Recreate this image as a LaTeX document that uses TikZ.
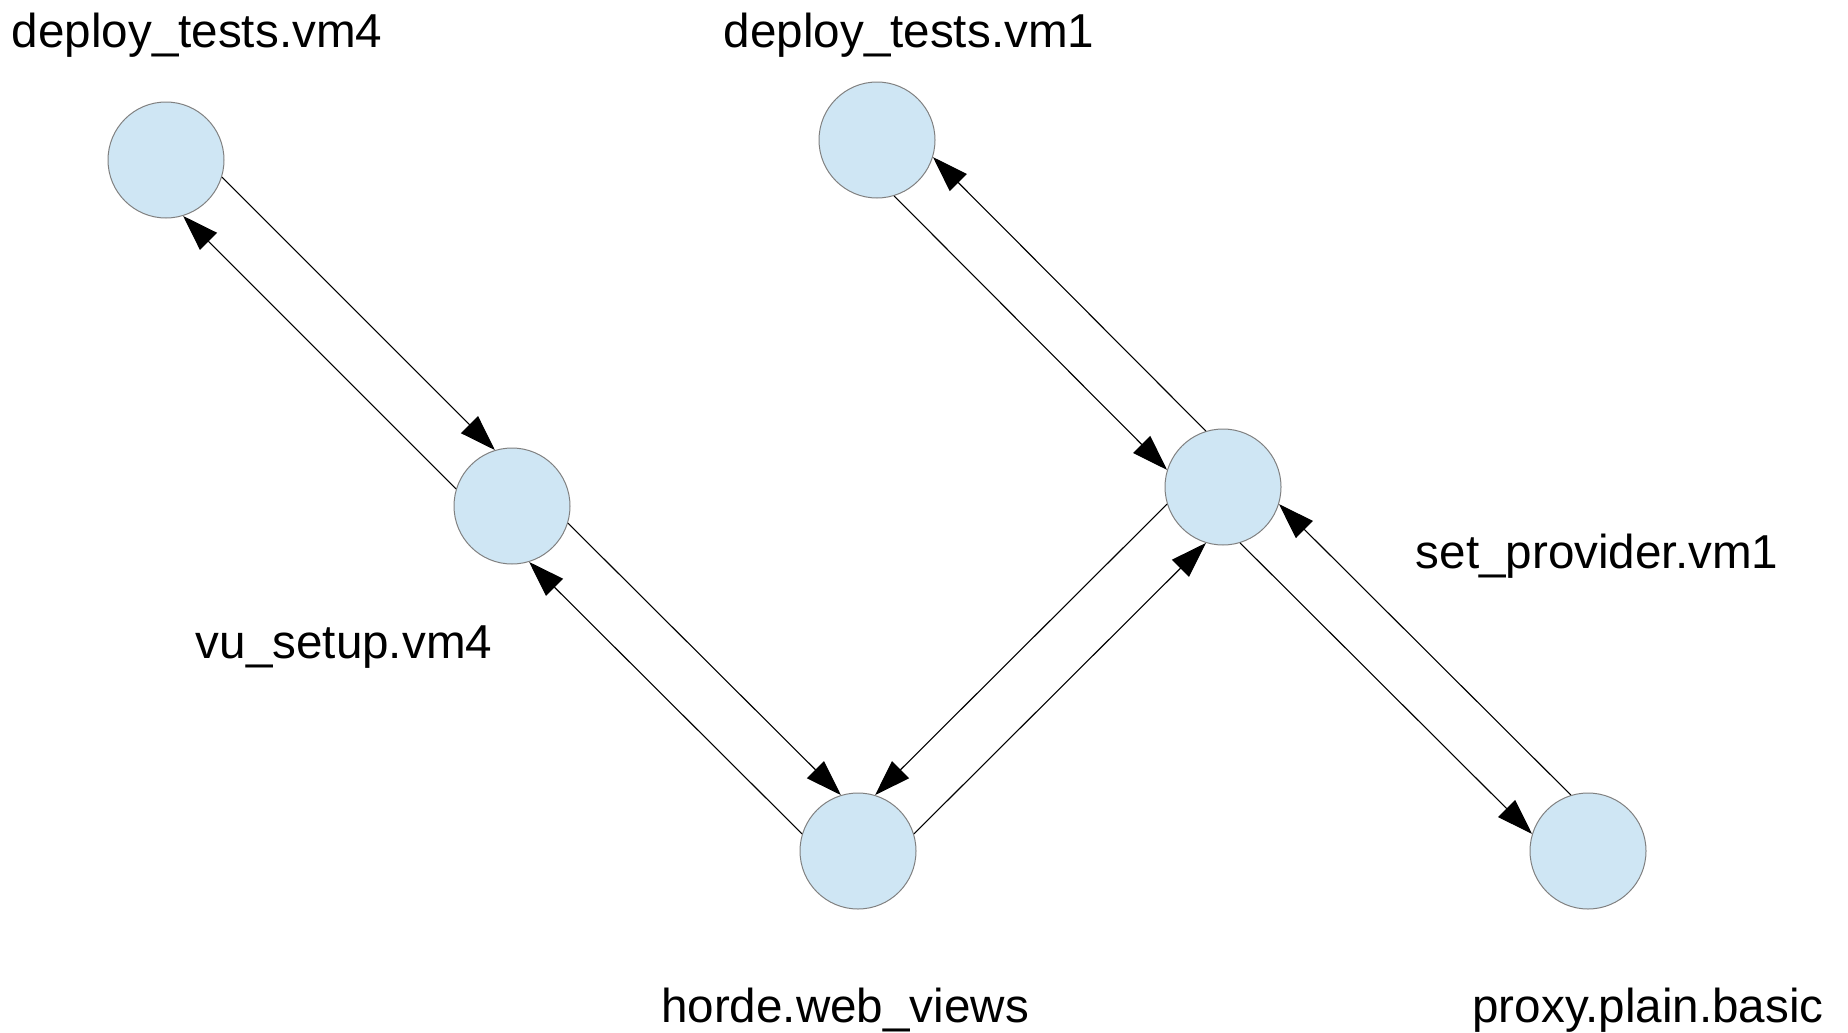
\documentclass[tikz,border=0pt]{standalone}
\usepackage{fontspec}
\setmainfont{Liberation Sans}
\usepackage{tikz}
\usetikzlibrary{arrows.meta}
\definecolor{statefill}{RGB}{207,230,244}
\definecolor{stateline}{RGB}{128,128,128}
\tikzset{
  % node styles (states, their names)
  state/.style={circle,draw=stateline,fill=statefill,line width=0.5pt,inner sep=0pt,minimum size=58pt},
  statename/.style={anchor=base,inner sep=0pt,font=\fontsize{23.8pt}{28pt}\selectfont},
  % connector style
  % gebruik: \draw[flow] (a.hoek) -- (b.hoek);
  flow/.style={-{Triangle[length=18pt,width=12pt]},line width=0.55pt,black},
}
\begin{document}
\begin{tikzpicture}[x=0.5pt,y=-0.5pt]
  \useasboundingbox (0,0) rectangle (1848,1033);
  \node[state] (dtvmfour) at (166,160) {};
  \node[state] (dtvmone) at (877,140) {};
  \node[state] (vusetup) at (512,506) {};
  \node[state] (setprov) at (1223,487) {};
  \node[state] (horde) at (858,851) {};
  \node[state] (proxy) at (1588,851) {};
  \node[statename] (ldtvmfour) at (197,47) {deploy\_tests.vm4};
  \node[statename] (ldtvmone) at (909,47) {deploy\_tests.vm1};
  \node[statename] (lvusetup) at (344,658) {vu\_setup.vm4};
  \node[statename] (lsetprov) at (1597,568) {set\_provider.vm1};
  \node[statename] (lhorde) at (845,1022) {horde.web\_views};
  \node[statename] (lproxy) at (1648,1022) {proxy.plain.basic};
  \draw[flow] (dtvmfour.-17) -- (vusetup.107);
  \draw[flow] (vusetup.163) -- (dtvmfour.-73);
  \draw[flow] (vusetup.-17) -- (horde.107);
  \draw[flow] (horde.163) -- (vusetup.-73);
  \draw[flow] (horde.17) -- (setprov.253);
  \draw[flow] (setprov.197) -- (horde.73);
  \draw[flow] (dtvmone.-73) -- (setprov.163);
  \draw[flow] (setprov.107) -- (dtvmone.-17);
  \draw[flow] (setprov.-73) -- (proxy.163);
  \draw[flow] (proxy.107) -- (setprov.-17);
\end{tikzpicture}
\end{document}
